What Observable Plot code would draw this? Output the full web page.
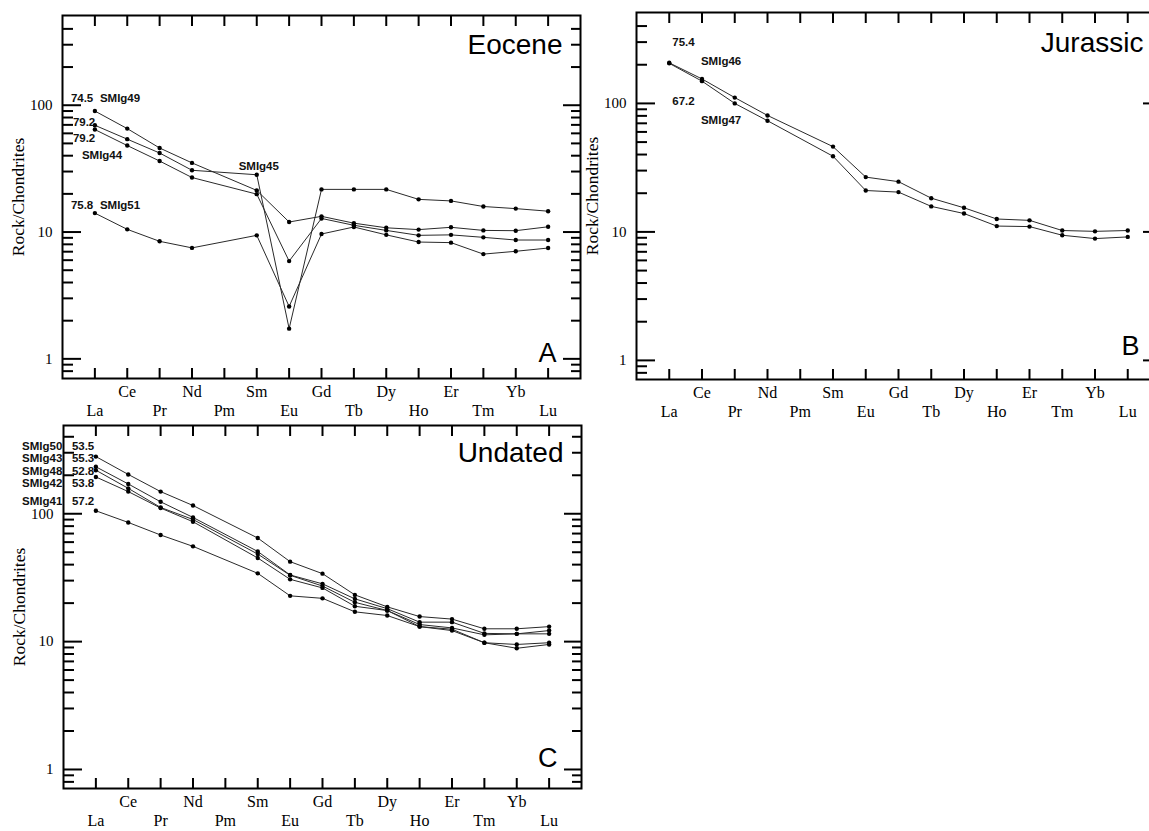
<!DOCTYPE html>
<html><head><meta charset="utf-8">
<script src="https://cdn.jsdelivr.net/npm/d3@7"></script>
<script src="https://cdn.jsdelivr.net/npm/@observablehq/plot@0.6"></script>
<style>
html,body{margin:0;padding:0;background:#fff;overflow:hidden;}
#root{position:relative;width:1149px;height:831px;overflow:hidden;background:#fff;}
.panel{position:absolute;}
.panel svg{max-width:none !important;}
</style></head><body><div id="root"></div>
<script>
// ---- data ----
const elements = ["La","Ce","Pr","Nd","Pm","Sm","Eu","Gd","Tb","Dy","Ho","Er","Tm","Yb","Lu"];
const majorTicks = [1, 10, 100];
const minorTicks = [0.8, 0.9, 2, 3, 4, 5, 6, 7, 8, 9, 20, 30, 40, 50, 60, 70, 80, 90, 200, 300, 400];
const yTitle = "Rock/Chondrites";

// Panel A — Eocene
const eoceneNames = ["SMIg49", "SMIg45", "SMIg44", "SMIg51"];
const SMIg49 = [90, 65.4, 46, 35.1, null, 21.3, 12.0, 13.3, 11.75, 10.8, 10.45, 10.9, 10.3, 10.25, 11.0];
const SMIg45 = [69.5, 54, 42, 30.7, null, 28.3, 1.73, 21.7, 21.7, 21.7, 18.1, 17.6, 15.9, 15.3, 14.6];
const SMIg44 = [64.3, 48.1, 36.3, 26.9, null, 19.9, 5.9, 12.8, 11.3, 10.3, 9.42, 9.5, 9.08, 8.65, 8.65];
const SMIg51 = [14.1, 10.5, 8.45, 7.5, null, 9.42, 2.59, 9.65, 10.96, 9.5, 8.34, 8.25, 6.7, 7.05, 7.48];

// Panel B — Jurassic
const jurassicNames = ["SMIg46", "SMIg47"];
const SMIg46 = [207, 155, 111, 80.6, null, 46.1, 26.7, 24.6, 18.3, 15.4, 12.6, 12.3, 10.25, 10.1, 10.25];
const SMIg47 = [205, 149, 100, 73.3, null, 38.8, 21.0, 20.4, 15.8, 13.9, 11.1, 11.0, 9.42, 8.87, 9.14];

// Panel C — Undated
const undatedNames = ["SMIg50", "SMIg43", "SMIg48", "SMIg42", "SMIg41"];
const undatedAges = ["53.5", "55.3", "52.8", "53.8", "57.2"];
const SMIg50 = [280, 203, 149, 116, null, 64.6, 42.2, 34, 23.2, 18.7, 15.7, 15.0, 12.6, 12.6, 13.1];
const SMIg43 = [233, 171, 124, 93.6, null, 50.7, 33.2, 28.3, 21.6, 18.1, 14.2, 14.2, 11.6, 11.5, 12.2];
const SMIg48 = [219, 158, 112, 90.2, null, 48.4, 33.0, 27.2, 20.3, 17.5, 13.6, 12.8, 11.3, 11.5, 11.5];
const SMIg42 = [194, 149, 110.8, 86.6, null, 45.1, 30.7, 26.3, 18.9, 17.5, 13.1, 12.2, 9.8, 9.5, 9.8];
const SMIg41 = [105.5, 85.5, 68.2, 55.6, null, 34.2, 22.8, 21.8, 17.1, 16.0, 13.1, 12.5, 9.8, 8.87, 9.5];

// ---- helpers ----
const SERIF = "'Liberation Serif', 'Times New Roman', serif";
const SANS = "'Liberation Sans', Arial, sans-serif";

function tidy(names, seriesList) {
  const rows = [];
  seriesList.forEach((vals, k) => vals.forEach((v, i) => {
    if (v != null) rows.push({sample: names[k], el: i + 1, name: elements[i], v});
  }));
  return rows;
}
const elemRows = elements.map((name, i) => ({name, i: i + 1}));
const upperRow = elemRows.filter(d => d.i % 2 === 0);
const lowerRow = elemRows.filter(d => d.i % 2 === 1);

function pointOf(rows, sample, el) { return rows.filter(d => d.sample === sample && d.el === el); }

function lbl(rows, sample, el, text, dx, dy, anchor = "start") {
  return Plot.text(pointOf(rows, sample, el), {
    x: "el", y: "v", text: () => text, dx, dy, textAnchor: anchor, lineAnchor: "middle",
    fontFamily: SANS, fontWeight: "bold", fontSize: 11.5, fill: "#111"
  });
}

function panel({rows, domain, width, height, margin, title, letter, tDx, tDy, lDx, lDy, extra}) {
  const tickOpts = {fill: "none", strokeWidth: 2, stroke: "#000", label: null};
  return Plot.plot({
    width, height,
    marginLeft: margin[0], marginTop: margin[1], marginRight: margin[2], marginBottom: margin[3],
    x: {type: "linear", domain: [0, 16], label: null},
    y: {type: "log", domain, label: null},
    style: {fontFamily: SERIF, fontSize: "16px", color: "#000", background: "transparent", overflow: "visible", maxWidth: "none"},
    marks: [
      Plot.axisY(majorTicks, {anchor: "left", tickSize: -19, ...tickOpts}),
      Plot.axisY(minorTicks, {anchor: "left", tickSize: -11, ...tickOpts}),
      Plot.axisY(majorTicks, {anchor: "right", tickSize: -18, ...tickOpts}),
      Plot.axisY(minorTicks, {anchor: "right", tickSize: -10, ...tickOpts}),
      Plot.axisX(d3.range(1, 16), {anchor: "top", tickSize: -10, ...tickOpts}),
      Plot.axisX(d3.range(1, 16), {anchor: "bottom", tickSize: -10, ...tickOpts}),
      Plot.axisY(majorTicks, {anchor: "left", tickSize: 0, tickPadding: 10, tickFormat: d => String(d), fontSize: 15, label: null}),
      Plot.text(upperRow, {x: "i", text: "name", frameAnchor: "bottom", lineAnchor: "top", dy: 7.5, fontSize: 16, fontFamily: SERIF}),
      Plot.text(lowerRow, {x: "i", text: "name", frameAnchor: "bottom", lineAnchor: "top", dy: 26.5, fontSize: 16, fontFamily: SERIF}),
      Plot.text([yTitle], {frameAnchor: "left", textAnchor: "middle", lineAnchor: "middle", rotate: -90, dx: -44, fontSize: 17.5, fontFamily: SERIF}),
      Plot.frame({strokeWidth: 2, stroke: "#000"}),
      Plot.line(rows, {x: "el", y: "v", z: "sample", stroke: "#2a2a2a", strokeWidth: 1}),
      Plot.dot(rows, {x: "el", y: "v", r: 2.2, fill: "#000"}),
      Plot.text([title], {frameAnchor: "top-right", textAnchor: "end", lineAnchor: "middle", dx: tDx, dy: tDy, fontSize: 28, fontFamily: SANS}),
      Plot.text([letter], {frameAnchor: "bottom-right", textAnchor: "end", lineAnchor: "middle", dx: lDx, dy: lDy, fontSize: 27, fontFamily: SANS}),
      ...extra
    ]
  });
}

const root = document.getElementById("root");
function place(svg, left, top, w, h) {
  const d = document.createElement("div");
  d.className = "panel";
  d.style.left = left + "px"; d.style.top = top + "px";
  d.style.width = w + "px"; d.style.height = h + "px";
  d.appendChild(svg); root.appendChild(d);
}

// Panel A
const rowsA = tidy(eoceneNames, [SMIg49, SMIg45, SMIg44, SMIg51]);
place(panel({
  rows: rowsA, domain: [0.7, 510], width: 600, height: 425, margin: [62, 15, 20, 47],
  title: "Eocene", letter: "A", tDx: -18, tDy: 30, lDx: -24, lDy: -25.5,
  extra: [
    lbl(rowsA, "SMIg49", 1, "74.5", -24, -12.5),
    lbl(rowsA, "SMIg49", 1, "SMIg49", 5, -12.5),
    lbl(rowsA, "SMIg45", 1, "79.2", -22, -3.3),
    lbl(rowsA, "SMIg44", 1, "79.2", -22, 8.7),
    lbl(rowsA, "SMIg44", 1, "SMIg44", -13, 25.7),
    lbl(rowsA, "SMIg51", 1, "75.8", -24, -7.7),
    lbl(rowsA, "SMIg51", 1, "SMIg51", 5, -7.7),
    lbl(rowsA, "SMIg45", 6, "SMIg45", 2, -8.3, "middle")
  ]
}), 0, 0, 600, 425);

// Panel B
const rowsB = tidy(jurassicNames, [SMIg46, SMIg47]);
place(panel({
  rows: rowsB, domain: [0.71, 510], width: 600, height: 425, margin: [56, 12, 20, 46],
  title: "Jurassic", letter: "B", tDx: -17, tDy: 31, lDx: -21, lDy: -33,
  extra: [
    lbl(rowsB, "SMIg46", 1, "75.4", 3, -20.6),
    lbl(rowsB, "SMIg46", 1, "SMIg46", 31.7, -1.3),
    lbl(rowsB, "SMIg47", 1, "67.2", 3, 37.7),
    lbl(rowsB, "SMIg47", 1, "SMIg47", 31.7, 56.7)
  ]
}), 580, 0, 600, 425);

// Panel C
const rowsC = tidy(undatedNames, [SMIg50, SMIg43, SMIg48, SMIg42, SMIg41]);
const cDy = [-10.7, -8, 1.2, 6.5, -9];
place(panel({
  rows: rowsC, domain: [0.71, 490], width: 600, height: 421, margin: [63, 15, 19, 43],
  title: "Undated", letter: "C", tDx: -18, tDy: 28, lDx: -24, lDy: -30,
  extra: undatedNames.flatMap((n, k) => [
    lbl(rowsC, n, 1, n, -33.5, cDy[k], "end"),
    lbl(rowsC, n, 1, undatedAges[k], -24, cDy[k])
  ])
}), 0, 410, 600, 421);
</script>
</body></html>
